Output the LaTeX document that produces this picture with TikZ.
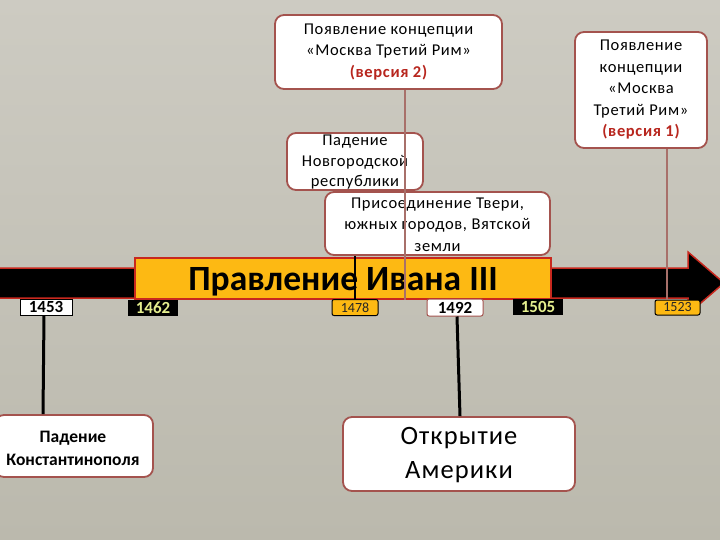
\documentclass[tikz,border=0pt]{standalone}
\usepackage{fontspec}
\setmainfont{Carlito}
\newfontfamily\boxfont[LetterSpace=4]{Carlito}
\usetikzlibrary{calc}
\definecolor{bgtop}{HTML}{CDCBC2}
\definecolor{bgbot}{HTML}{BBB9AD}
\definecolor{boxred}{HTML}{A4534E}
\definecolor{arrred}{HTML}{C8281E}
\definecolor{barorange}{HTML}{FDB913}
\definecolor{vertxt}{HTML}{B8261E}
\definecolor{yeartxt}{HTML}{E4EE8E}
\definecolor{rosy}{HTML}{A8706A}
\tikzset{
  ebox/.style={draw=boxred, line width=1.8pt, fill=white, rounded corners=9pt, inner sep=0pt},
  etext/.style={inner sep=0pt, align=center, font=\boxfont\fontsize{16.5}{21.5}\selectfont},
  yearw/.style={draw=black, line width=1pt, fill=white, inner sep=0pt, font=\bfseries\fontsize{17}{17}\selectfont},
  yearb/.style={fill=black, inner sep=0pt, text=yeartxt, font=\bfseries\fontsize{17}{17}\selectfont},
  yearo/.style={draw=black, line width=1pt, fill=barorange, rounded corners=2pt, inner sep=0pt, text=black!85, font=\fontsize{14}{14}\selectfont},
  blackconn/.style={draw=black, line width=3pt},
  thinconn/.style={draw=black, line width=1.8pt},
  rosyconn/.style={draw=rosy, line width=1.6pt},
}
\begin{document}
\begin{tikzpicture}[x=1pt,y=-1pt]
\useasboundingbox (0,0) rectangle (720,540);
\shade[top color=bgtop, bottom color=bgbot] (0,0) rectangle (720,540);
% arrow
\filldraw[fill=black, draw=arrred, line width=1.5pt] (-5,268) -- (688,268) -- (688,252) -- (724,283) -- (688,314) -- (688,298) -- (-5,298) -- cycle;
% orange bar
\node[draw=arrred, line width=1.5pt, fill=barorange, minimum width=416pt, minimum height=41pt, inner sep=0pt] (bar) at (343,278.5) {};
\node[inner sep=0pt, font=\bfseries\fontsize{35.5}{35.5}\selectfont] (bart) at (343,281.5) {Правление Ивана III};
% year labels
\node[yearw, minimum width=52pt, minimum height=16pt] (y1453) at (46,307) {1453};
\node[yearb, minimum width=50pt, minimum height=16pt] (y1462) at (153,308) {1462};
\node[yearo, minimum width=46pt, minimum height=16pt] (y1478) at (355,307.5) {1478};
\node[yearw, draw=boxred, rounded corners=2pt, minimum width=56pt, minimum height=17pt] (y1492) at (455,307.5) {1492};
\node[yearb, minimum width=50pt, minimum height=16pt] (y1505) at (538,307) {1505};
\node[yearo, minimum width=45pt, minimum height=15pt] (y1523) at (677.5,307.5) {1523};
% boxes
\node[ebox, minimum width=227pt, minimum height=74pt] (v2) at (388.5,52) {};
\node[etext] (v2t) at (v2.center) {Появление концепции\\«Москва Третий Рим»\\\textcolor{vertxt}{\bfseries (версия 2)}};
\node[ebox, minimum width=136pt, minimum height=57pt] (nov) at (355,161.5) {};
\node[etext, font=\boxfont\fontsize{16.5}{20.5}\selectfont] (novt) at (355,162.5) {Падение\\Новгородской\\республики};
\node[ebox, minimum width=225pt, minimum height=63pt] (tver) at (437.5,223.5) {};
\node[etext] (tvert) at (437.5,224.5) {Присоединение Твери,\\южных городов, Вятской\\земли};
\node[ebox, minimum width=132pt, minimum height=116pt] (v1) at (641,90) {};
\node[etext] (v1t) at (v1.center) {Появление\\концепции\\«Москва\\Третий Рим»\\\textcolor{vertxt}{\bfseries (версия 1)}};
\node[ebox, minimum width=158pt, minimum height=62pt] (konst) at (74,446) {};
\node[etext, font=\bfseries\fontsize{17.5}{23}\selectfont] (konstt) at (73,448.5) {Падение\\Константинополя};
\node[ebox, minimum width=232pt, minimum height=74pt] (amer) at (459,454) {};
\node[etext, font=\boxfont\fontsize{26.5}{34}\selectfont] (amert) at (459,455) {Открытие\\Америки};
% connectors
\draw[blackconn] ([xshift=-2pt]y1453.south) -- ([xshift=-31pt]konst.north);
\draw[blackconn] ([xshift=2pt]y1492.south) -- ([xshift=1pt]amer.north);
\draw[thinconn] ([xshift=-82.5pt]tver.south) -- (y1478.north);
\coordinate (v2end) at ([xshift=62pt]bar.south);
\draw[rosyconn] ([xshift=16.5pt]v2.south) -- (v2end);
\draw[rosyconn] ([xshift=26pt]v1.south) -- ([xshift=-10.5pt]y1523.north);
\end{tikzpicture}
\end{document}
